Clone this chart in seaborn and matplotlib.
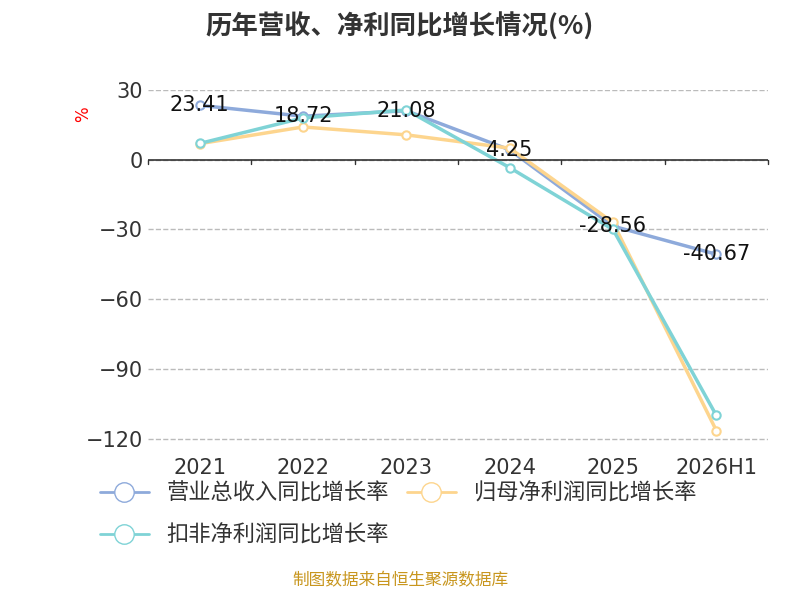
import matplotlib
matplotlib.use("Agg")
import matplotlib.pyplot as plt
import seaborn as sns
import pandas as pd
from matplotlib.lines import Line2D

sns.set_theme(style="white")
plt.rcParams["font.family"] = ["DejaVu Sans", "Noto Sans CJK SC"]

years = ["2021", "2022", "2023", "2024", "2025", "2026H1"]
revenue = [23.41, 18.72, 21.08, 4.25, -28.56, -40.67]
net_profit = [6.9, 14.1, 10.7, 5.0, -27.0, -116.5]
deducted = [7.0, 18.0, 21.4, -3.4, -30.0, -110.0]

names = ["营业总收入同比增长率", "归母净利润同比增长率", "扣非净利润同比增长率"]
colors = ["#8eaadb", "#fdd58e", "#7fd3d6"]

df = pd.DataFrame({"year": years * 3,
                   "val": revenue + net_profit + deducted,
                   "s": sum([[n] * len(years) for n in names], [])})
df["x"] = list(range(len(years))) * 3

fig = plt.figure(figsize=(8, 6), dpi=100)
ax = fig.add_axes([0.185, 0.265, 0.775, 0.585])
sns.lineplot(data=df, x="x", y="val", hue="s", palette=colors, ax=ax,
             lw=2.5, marker="o", markersize=6, markerfacecolor="white",
             markeredgewidth=1.5, legend=False, sort=False)
for line, c in zip(ax.lines, colors):
    line.set_markeredgecolor(c)

for i, v in enumerate(revenue):
    ax.text(i, v, f"{v:.2f}", ha="center", va="center", fontsize=15, color="#111111")

ax.set_xlim(-0.5, 5.5)
ax.set_ylim(-121, 30)
ax.set_yticks([30, 0, -30, -60, -90, -120])
ax.set_xticks(range(len(years)))
ax.set_xticklabels(years)
ax.tick_params(axis="both", labelsize=15, colors="#333333", length=0)
ax.tick_params(axis="x", pad=12)
ax.yaxis.grid(True, ls="--", color="#bbbbbb", lw=1)
for s in ["top", "right", "left", "bottom"]:
    ax.spines[s].set_visible(False)
ax.axhline(0, color="#333333", lw=1.2)
for i in range(len(years) + 1):
    ax.plot([i - 0.5, i - 0.5], [0, -2], color="#333333", lw=1, clip_on=False)
ax.set_xlabel("")
ax.set_ylabel("%", color="red", fontsize=12, rotation=90)
ax.yaxis.set_label_coords(-0.09, 0.93)

fig.text(0.5, 0.955, "历年营收、净利同比增长情况(%)", ha="center", va="center",
         fontsize=19, fontweight="bold", color="#333333",
         family=["Noto Sans CJK SC", "DejaVu Sans"])

handles = [Line2D([0], [0], color=c, lw=2, marker="o", markersize=14,
                  markerfacecolor="white", markeredgecolor=c) for c in colors]
leg_font = {"family": ["Noto Sans CJK SC", "DejaVu Sans"], "size": 16}
fig.legend(handles[:2], names[:2], loc="center left", bbox_to_anchor=(0.1, 0.178),
           ncol=2, frameon=False, prop=leg_font, handlelength=2.2, columnspacing=0.8,
           labelcolor="#333333")
fig.legend(handles[2:], names[2:], loc="center left", bbox_to_anchor=(0.1, 0.108),
           frameon=False, prop=leg_font, handlelength=2.2, labelcolor="#333333")

fig.text(0.5, 0.018, "制图数据来自恒生聚源数据库", ha="center", va="bottom",
         fontsize=12, color="#c8961e", family=["Noto Sans CJK SC", "DejaVu Sans"])

fig.savefig("out.png", dpi=100)
